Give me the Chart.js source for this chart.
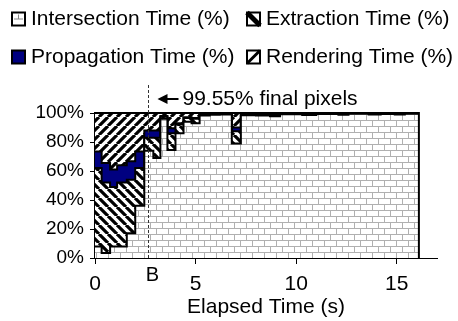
<!DOCTYPE html>
<html>
<head>
<meta charset="utf-8">
<script src="https://cdn.jsdelivr.net/npm/chart.js@4.4.0/dist/chart.umd.min.js"></script>
<style>
  html, body { margin: 0; padding: 0; background: #fff; }
</style>
</head>
<body>
<canvas id="myChart" width="458" height="321"></canvas>
<script>
// step start times (s), the last one closes the final step
const times = [0, 0.33, 0.75, 1.1, 1.58, 2.0, 2.45, 2.9, 3.25, 3.6, 4.0, 4.4, 4.8, 5.2, 5.7, 6.2, 6.8, 7.25, 8.0, 8.7, 9.2, 10.3, 11.0, 12.1, 12.6, 13.6, 14.2, 14.9, 15.4, 16.1];
const intersection = [8, 3.4, 8, 8, 17, 36, 74, 69, 96, 74.5, 86, 94, 93, 98.3, 98.8, 99, 79, 98.5, 98.2, 97.8, 99.2, 98.6, 99.3, 98.8, 99.4, 98.9, 99.3, 99.0, 99.55, 99.55];
const extraction = [54, 48.6, 41, 44, 37, 26, 9, 14, 1.5, 11.5, 6, 2.5, 3, 0.6, 0.4, 0.4, 8.5, 0.6, 0.7, 0.8, 0.3, 0.5, 0.3, 0.5, 0.25, 0.4, 0.3, 0.4, 0.2, 0.2];
const propagation = [11.5, 13.5, 12, 12, 12.7, 11.5, 5, 5, 0.5, 3.5, 1, 0.5, 0.5, 0.1, 0, 0, 2.5, 0.1, 0.1, 0.2, 0, 0.1, 0, 0.1, 0, 0.1, 0, 0.1, 0.05, 0.05];
const rendering = [26.5, 34.5, 39, 36, 33.3, 26.5, 12, 12, 2, 10.5, 7, 3, 3.5, 1.0, 0.8, 0.6, 10, 0.8, 1.0, 1.2, 0.5, 0.8, 0.4, 0.6, 0.35, 0.6, 0.4, 0.5, 0.2, 0.2];
const seriesNames = ['Intersection Time (%)', 'Extraction Time (%)', 'Propagation Time (%)', 'Rendering Time (%)'];
const xTicks = [0, 5, 10, 15];
const yTicks = [0, 20, 40, 60, 80, 100];
const bTime = 2.64;
const bLabel = 'B';
const finalLabel = '99.55% final pixels';

Chart.defaults.font.family = "'Liberation Sans', Arial, sans-serif";
Chart.defaults.color = '#000';

function makePattern(w, h, draw) {
  const c = document.createElement('canvas');
  c.width = w; c.height = h;
  const g = c.getContext('2d');
  g.fillStyle = '#fff';
  g.fillRect(0, 0, w, h);
  draw(g);
  return g.createPattern(c, 'repeat');
}

const brick = makePattern(12, 12, g => {
  g.strokeStyle = '#b0b0b0';
  g.lineWidth = 1;
  g.beginPath();
  g.moveTo(0, 0.5); g.lineTo(12, 0.5);
  g.moveTo(0, 6.5); g.lineTo(12, 6.5);
  g.moveTo(0.5, 0); g.lineTo(0.5, 6);
  g.moveTo(6.5, 6); g.lineTo(6.5, 12);
  g.stroke();
});

function hatch(up) {
  return makePattern(9, 9, g => {
    g.strokeStyle = '#000';
    g.lineWidth = 3.2;
    g.beginPath();
    for (const k of [-9, 0, 9]) {
      if (up) { g.moveTo(k, 9); g.lineTo(k + 9, 0); }
      else { g.moveTo(k, 0); g.lineTo(k + 9, 9); }
    }
    g.stroke();
  });
}

const fills = [brick, hatch(false), '#000080', hatch(true)];
const series = [intersection, extraction, propagation, rendering];

const extras = {
  id: 'extras',
  afterDatasetsDraw(chart) {
    const {ctx, scales: {x, y}} = chart;
    const top = y.getPixelForValue(100), bottom = y.getPixelForValue(0);
    ctx.save();
    // close the right side of the stacked area
    const xe = x.getPixelForValue(times[times.length - 1]);
    ctx.strokeStyle = '#000';
    ctx.lineWidth = 2;
    ctx.beginPath(); ctx.moveTo(xe, bottom); ctx.lineTo(xe, top - 1); ctx.stroke();

    // B marker
    const xb = Math.round(x.getPixelForValue(bTime)) + 0.5;
    ctx.setLineDash([3, 2]);
    ctx.lineWidth = 1;
    ctx.strokeStyle = '#333';
    ctx.beginPath(); ctx.moveTo(xb, top - 28); ctx.lineTo(xb, bottom); ctx.stroke();
    ctx.setLineDash([]);

    ctx.fillStyle = '#000';
    ctx.font = "20px 'Liberation Sans', Arial, sans-serif";
    ctx.textAlign = 'center';
    ctx.textBaseline = 'middle';
    ctx.fillText(bLabel, xb + 4, bottom + 17);

    // arrow + note
    const ay = top - 14;
    ctx.beginPath();
    ctx.moveTo(xb + 9, ay);
    ctx.lineTo(xb + 19, ay - 5);
    ctx.lineTo(xb + 19, ay + 5);
    ctx.closePath();
    ctx.fill();
    ctx.lineWidth = 2;
    ctx.strokeStyle = '#000';
    ctx.beginPath(); ctx.moveTo(xb + 18, ay); ctx.lineTo(xb + 30, ay); ctx.stroke();
    ctx.textAlign = 'left';
    ctx.font = "21px 'Liberation Sans', Arial, sans-serif";
    ctx.fillText(finalLabel, xb + 34, ay);
    ctx.restore();
  },
  afterDraw(chart) {
    const {ctx} = chart;
    const cols = [12, 247], rows = [19, 57], box = 13;
    ctx.save();
    ctx.font = "21px 'Liberation Sans', Arial, sans-serif";
    ctx.textBaseline = 'middle';
    ctx.textAlign = 'left';
    seriesNames.forEach((name, i) => {
      const bx = cols[i % 2], cy = rows[Math.floor(i / 2)];
      const by = cy - box / 2;
      ctx.fillStyle = i === 2 ? fills[2] : '#fff';
      ctx.fillRect(bx, by, box, box);
      ctx.strokeStyle = '#000';
      if (i === 0) {
        ctx.strokeStyle = '#888';
        ctx.lineWidth = 1;
        ctx.beginPath();
        ctx.moveTo(bx + 2, by + 6.5); ctx.lineTo(bx + box - 2, by + 6.5);
        ctx.moveTo(bx + 6.5, by + 2); ctx.lineTo(bx + 6.5, by + 6.5);
        ctx.stroke();
      } else if (i === 1 || i === 3) {
        ctx.lineWidth = i === 1 ? 5 : 3;
        ctx.beginPath();
        if (i === 1) { ctx.moveTo(bx, by); ctx.lineTo(bx + box, by + box); }
        else { ctx.moveTo(bx, by + box); ctx.lineTo(bx + box, by); }
        ctx.stroke();
      }
      ctx.strokeStyle = '#000';
      ctx.lineWidth = 2;
      ctx.strokeRect(bx, by, box, box);
      ctx.fillStyle = '#000';
      ctx.fillText(name, bx + box + 6, cy);
    });
    ctx.restore();
  }
};

const myChart = new Chart(document.getElementById('myChart').getContext('2d'), {
  type: 'line',
  data: {
    datasets: series.map((vals, i) => ({
      label: seriesNames[i],
      data: times.map((t, j) => ({x: t, y: vals[j]})),
      stepped: true,
      fill: i === 0 ? 'origin' : '-1',
      backgroundColor: fills[i],
      borderColor: '#000',
      borderWidth: 2,
      pointRadius: 0,
      clip: 4
    }))
  },
  options: {
    responsive: false,
    animation: false,
    layout: {padding: {left: 0, right: 21, top: 113, bottom: 0}},
    plugins: {legend: {display: false}, tooltip: {enabled: false}},
    scales: {
      x: {
        type: 'linear',
        min: 0,
        max: 17,
        afterBuildTicks: s => { s.ticks = xTicks.map(v => ({value: v})); },
        afterFit: s => { s.height = 63; },
        grid: {drawOnChartArea: false, drawTicks: true, tickLength: 6, color: '#000'},
        border: {color: '#000', width: 1},
        ticks: {font: {size: 21}, padding: 8, maxRotation: 0},
        title: {display: true, text: 'Elapsed Time (s)', font: {size: 21}, padding: {top: 0, bottom: 1}}
      },
      y: {
        stacked: true,
        min: 0,
        max: 100,
        afterBuildTicks: s => { s.ticks = yTicks.map(v => ({value: v})); },
        afterFit: s => { s.width = 95; },
        grid: {drawOnChartArea: false, drawTicks: true, tickLength: 5, color: '#000'},
        border: {color: '#000', width: 2},
        ticks: {font: {size: 19}, padding: 6, callback: v => v + '%'}
      }
    }
  },
  plugins: [extras]
});
</script>
</body>
</html>
